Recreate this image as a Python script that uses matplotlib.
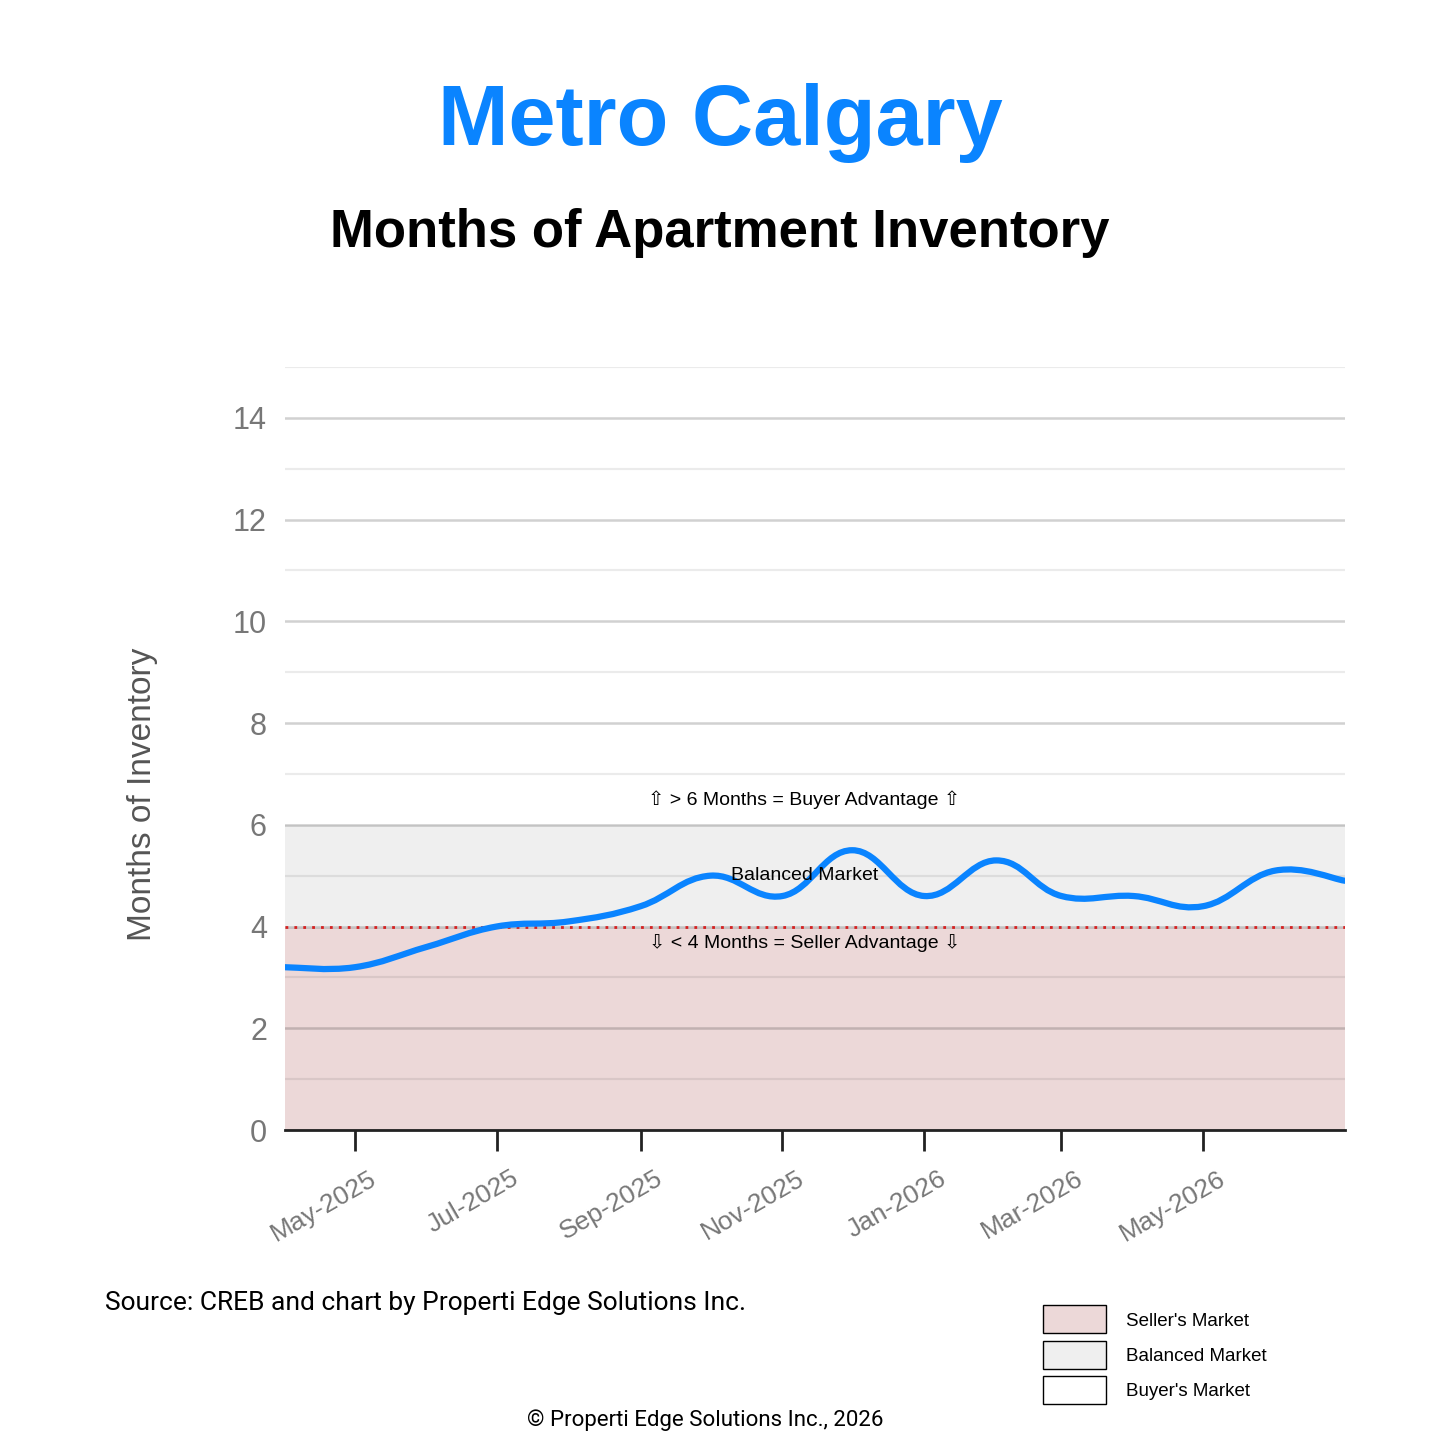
import numpy as np
import pandas as pd
import matplotlib
matplotlib.use("Agg")
import matplotlib.pyplot as plt
import matplotlib.dates as mdates
import matplotlib.transforms as mtransforms
from matplotlib.path import Path
from matplotlib.patches import PathPatch, Rectangle
from matplotlib.ticker import MultipleLocator

# monthly months-of-inventory, Apr 2025 - Jul 2026
months = pd.date_range("2025-04-01", "2026-07-01", freq="MS")
inventory = [3.2, 3.2, 3.6, 4.0, 4.1, 4.4, 5.0, 4.6, 5.5, 4.6, 5.3, 4.6, 4.6, 4.4, 5.1, 4.9]
tick_months = pd.date_range("2025-05-01", "2026-05-01", freq="2MS")
seller_max = 4
balanced_max = 6

plt.rcParams['font.family'] = ['Liberation Sans', 'DejaVu Sans']

fig = plt.figure(figsize=(14.4, 14.4), dpi=100)
ax = fig.add_axes([285 / 1440, 1 - 1130 / 1440, 1060 / 1440, 763 / 1440])

x = mdates.date2num(months)
y = np.array(inventory)
ax.set_xlim(x[0], x[-1])
ax.set_ylim(0, 15)

# market bands
ax.axhspan(0, seller_max, color="#ecd8d8", zorder=0)
ax.axhspan(seller_max, balanced_max, color="#efefef", zorder=0)

ax.yaxis.set_major_locator(MultipleLocator(2))
ax.yaxis.set_minor_locator(MultipleLocator(1))
ax.grid(True, which="major", axis="y", color="black", alpha=0.18, lw=1.8, zorder=1)
ax.grid(True, which="minor", axis="y", color="black", alpha=0.08, lw=1.6, zorder=1)
ax.axhline(seller_max, color="#d62020", lw=2, ls=(0, (1, 2.2)), zorder=2)

# smooth curve through the points (cardinal spline as bezier segments)
px = np.concatenate([[x[0]], x, [x[-1]]])
py = np.concatenate([[y[0]], y, [y[-1]]])
verts = [(x[0], y[0])]
codes = [Path.MOVETO]
k = 1 / 5
for i in range(1, len(px) - 2):
    c1 = (px[i] + (px[i + 1] - px[i - 1]) * k, py[i] + (py[i + 1] - py[i - 1]) * k)
    c2 = (px[i + 1] - (px[i + 2] - px[i]) * k, py[i + 1] - (py[i + 2] - py[i]) * k)
    verts += [c1, c2, (px[i + 1], py[i + 1])]
    codes += [Path.CURVE4] * 3
ax.add_patch(PathPatch(Path(verts, codes), fill=False, edgecolor="#0a84ff",
                       lw=4.5, capstyle="round", joinstyle="round", zorder=4))

for s in ["top", "right", "left"]:
    ax.spines[s].set_visible(False)
ax.spines["bottom"].set_color("#222222")
ax.spines["bottom"].set_linewidth(2)
ax.spines["bottom"].set_zorder(5)

ax.set_xticks(mdates.date2num(tick_months))
ax.tick_params(axis="x", length=15, width=2, color="#222222", pad=14)
ax.tick_params(axis="y", which="both", length=0, labelsize=22, labelcolor="#777777", pad=13)
ax.set_xticklabels([d.strftime("%b-%Y") for d in tick_months], rotation=30,
                   ha="right", rotation_mode="anchor", fontsize=19, color="#777777")
shift = mtransforms.ScaledTranslation(14 / 100, 4 / 100, fig.dpi_scale_trans)
for t in ax.xaxis.get_major_ticks():
    t.label1.set_transform(t.label1.get_transform() + shift)
ax.set_ylabel("Months of Inventory", fontsize=24, color="#555555")
ax.yaxis.set_label_coords(-0.12, 0.44)

tr = mtransforms.blended_transform_factory(ax.transAxes, ax.transData)
ax.text(0.49, 6.5, "\u21e7 > 6 Months = Buyer Advantage \u21e7", transform=tr,
        ha="center", va="center", fontsize=14, zorder=6)
ax.text(0.49, 5.0, "Balanced Market", transform=tr,
        ha="center", va="center", fontsize=14, zorder=6)
ax.text(0.49, 3.67, "\u21e9 < 4 Months = Seller Advantage \u21e9", transform=tr,
        ha="center", va="center", fontsize=14, zorder=6)

# titles
fig.text(0.5, 1 - 123 / 1440, "Metro Calgary", ha="center", va="center",
         fontsize=61, fontweight="bold", color="#0a84ff")
fig.text(0.5, 1 - 233 / 1440, "Months of Apartment Inventory", ha="center", va="center",
         fontsize=38, fontweight="bold", color="black")

fig.text(105 / 1440, 1 - 1303 / 1440, "Source: CREB and chart by Properti Edge Solutions Inc.",
         ha="left", va="center", fontsize=19, family="Roboto")
fig.text(705 / 1440, 1 - 1420 / 1440, "\u00a9 Properti Edge Solutions Inc., 2026",
         ha="center", va="center", fontsize=16, family="Roboto")

# legend boxes
legend_items = [("Seller's Market", "#ecd8d8"), ("Balanced Market", "#efefef"), ("Buyer's Market", "white")]
for i, (label, col) in enumerate(legend_items):
    top = 1305 + i * 35.5
    fig.patches.append(Rectangle((1043 / 1440, 1 - (top + 28) / 1440), 63 / 1440, 28 / 1440,
                                 transform=fig.transFigure, facecolor=col, edgecolor="black", lw=1))
    fig.text(1126 / 1440, 1 - (top + 16) / 1440, label, ha="left", va="center", fontsize=13.5)

fig.savefig("out.png", dpi=100, facecolor="white")
